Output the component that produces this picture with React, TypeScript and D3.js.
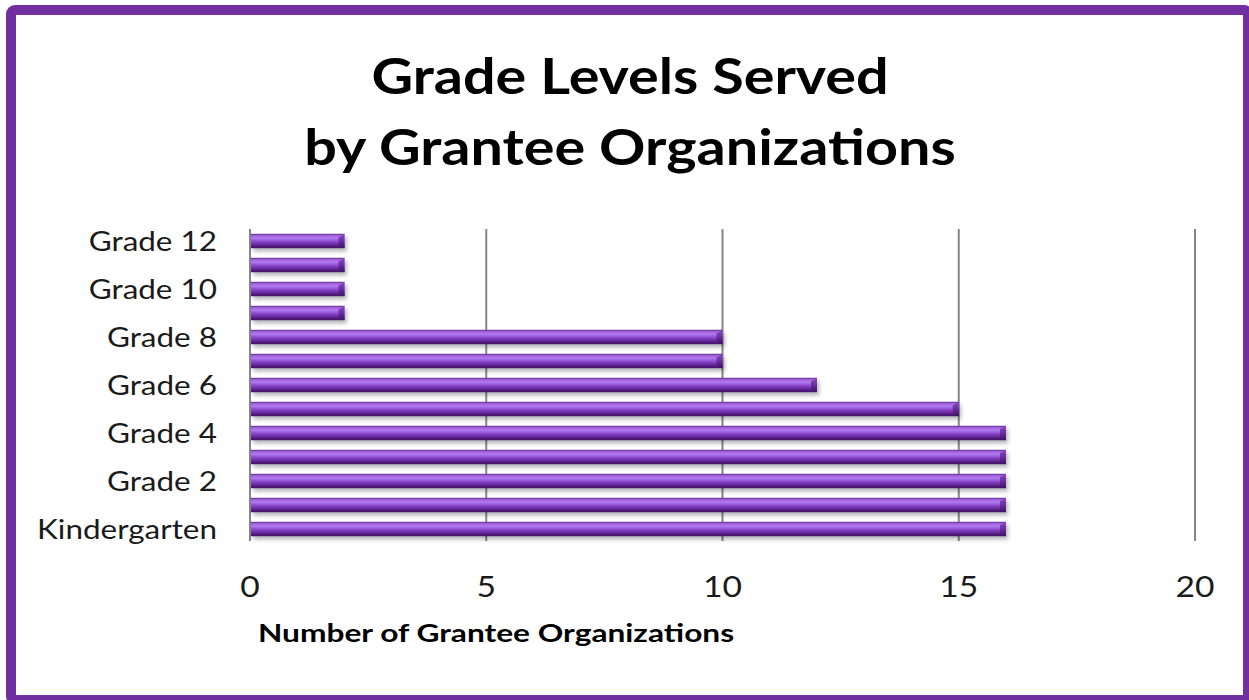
import React from "react";
import * as d3 from "d3";

const categories = [
  "Kindergarten", "Grade 1", "Grade 2", "Grade 3", "Grade 4", "Grade 5", "Grade 6",
  "Grade 7", "Grade 8", "Grade 9", "Grade 10", "Grade 11", "Grade 12",
];
const values = [16, 16, 16, 16, 16, 15, 12, 10, 10, 2, 2, 2, 2];
const shownLabels = ["Kindergarten", "Grade 2", "Grade 4", "Grade 6", "Grade 8", "Grade 10", "Grade 12"];
const xTicks = [0, 5, 10, 15, 20];
const titleLines = ["Grade Levels Served", "by Grantee Organizations"];
const xAxisTitle = "Number of Grantee Organizations";

const W = 1249;
const H = 700;
const FONT = "Lato, 'Open Sans', sans-serif";

function SText(props: {
  x: number; y: number; sx: number; anchor?: string; size: number; bold?: boolean; fill?: string; children: React.ReactNode;
}) {
  const { x, y, sx, anchor = "start", size, bold, fill = "#000", children } = props;
  return (
    <g transform={`translate(${x},${y}) scale(${sx},1)`}>
      <text
        x={0}
        y={0}
        textAnchor={anchor}
        fontFamily={FONT}
        fontWeight={bold ? "bold" : "normal"}
        fontSize={size}
        fill={fill}
      >
        {children}
      </text>
    </g>
  );
}

export default function App() {
  const x = d3.scaleLinear().domain([0, 20]).range([250, 1195]);
  const y = d3
    .scaleBand<string>()
    .domain([...categories].reverse())
    .range([229, 541])
    .padding(0);
  const barH = y.bandwidth() * 0.6;

  return (
    <svg
      width={W}
      height={H}
      style={{ position: "absolute", left: 0, top: 0, background: "#fff" }}
    >
      <defs>
        <linearGradient id="barGrad" x1="0" y1="0" x2="0" y2="1">
          <stop offset="0" stopColor="#5a2088" />
          <stop offset="0.1" stopColor="#9a5ed4" />
          <stop offset="0.3" stopColor="#b27af0" />
          <stop offset="0.55" stopColor="#8a44cc" />
          <stop offset="0.8" stopColor="#5e2590" />
          <stop offset="1" stopColor="#3a1060" />
        </linearGradient>
        <linearGradient id="capGrad" x1="0" y1="0" x2="0" y2="1">
          <stop offset="0" stopColor="#8a4cc0" />
          <stop offset="0.5" stopColor="#6a2ea0" />
          <stop offset="1" stopColor="#3a1060" />
        </linearGradient>
        <filter id="shadow" x="-5%" y="-50%" width="110%" height="250%">
          <feDropShadow dx="2" dy="3" stdDeviation="2" floodColor="#000" floodOpacity="0.3" />
        </filter>
      </defs>

      <rect x={11} y={10} width={1237} height={690} rx={4} fill="#fff" stroke="#7030a0" strokeWidth={10} />

      {titleLines.map((t, i) => (
        <SText key={t} x={630} y={94 + i * 71} sx={1.15} anchor="middle" size={50} bold>
          {t}
        </SText>
      ))}

      {xTicks.map((t) => (
        <line
          key={"g" + t}
          x1={x(t)}
          x2={x(t)}
          y1={229}
          y2={541}
          stroke="#868686"
          strokeWidth={2}
        />
      ))}

      {categories.map((c, i) => {
        const yc = (y(c) as number) + y.bandwidth() / 2;
        const x0 = x(0) + 1;
        const x1 = x(values[i]);
        const y0 = yc - barH / 2;
        const bev = 6;
        return (
          <g key={c} filter="url(#shadow)">
            <rect x={x0} y={y0} width={x1 - x0} height={barH} fill="url(#barGrad)" />
            <polygon
              points={`${x1 - bev},${y0 + bev * 0.6} ${x1},${y0} ${x1},${y0 + barH} ${x1 - bev},${y0 + barH - bev * 0.4}`}
              fill="url(#capGrad)"
            />
          </g>
        );
      })}

      {shownLabels.map((c) => (
        <SText
          key={c}
          x={217}
          y={(y(c) as number) + y.bandwidth() / 2 + 10}
          sx={1.21}
          anchor="end"
          size={26}
          fill="#1a1a1a"
        >
          {c}
        </SText>
      ))}

      {xTicks.map((t) => (
        <SText key={"t" + t} x={x(t)} y={597} sx={1.2} anchor="middle" size={28} fill="#1a1a1a">
          {t}
        </SText>
      ))}

      <SText x={258} y={642} sx={1.32} size={24} bold>
        {xAxisTitle}
      </SText>
    </svg>
  );
}
